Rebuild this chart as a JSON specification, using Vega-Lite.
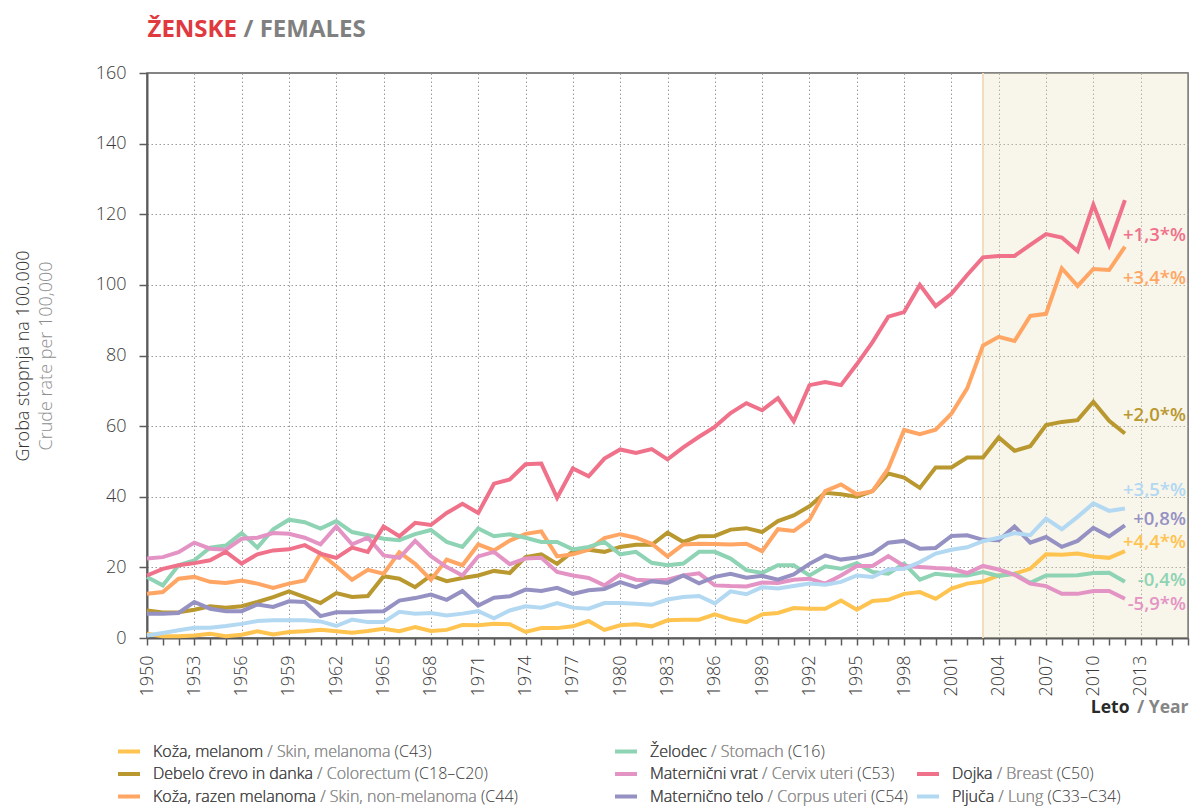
{
"$schema": "https://vega.github.io/schema/vega-lite/v6.json",
"width": 1041, "height": 565,
"autosize": {"type": "none"},
"padding": {"left": 147, "top": 73, "right": 7, "bottom": 170},
"background": "#ffffff",
"config": {"font": "Open Sans", "view": {"stroke": "#5c5c5c", "strokeWidth": 1.5}},
"datasets": {
"band": [{"start": 2003, "end": 2016}],
"trend": [
{"series":"dojka","label":"+1,3*%","year":2012,"label_rate":114.1},
{"series":"koza","label":"+3,4*%","year":2012,"label_rate":101.9},
{"series":"debelo","label":"+2,0*%","year":2012,"label_rate":63.1},
{"series":"pljuca","label":"+3,5*%","year":2012,"label_rate":42.0},
{"series":"telo","label":"+0,8%","year":2012,"label_rate":33.8},
{"series":"melanom","label":"+4,4*%","year":2012,"label_rate":27.2},
{"series":"zelodec","label":"-0,4%","year":2012,"label_rate":16.3},
{"series":"vrat","label":"-5,9*%","year":2012,"label_rate":9.5}
],
"legend": [
{"series":"melanom","col":1,"row":1,"pre":"Koža, melanom","mid":"Koža, melanom / Skin, melanoma","full":"Koža, melanom / Skin, melanoma (C43)"},
{"series":"debelo","col":1,"row":2,"pre":"Debelo črevo in danka","mid":"Debelo črevo in danka / Colorectum","full":"Debelo črevo in danka / Colorectum (C18–C20)"},
{"series":"koza","col":1,"row":3,"pre":"Koža, razen melanoma","mid":"Koža, razen melanoma / Skin, non-melanoma","full":"Koža, razen melanoma / Skin, non-melanoma (C44)"},
{"series":"zelodec","col":2,"row":1,"pre":"Želodec","mid":"Želodec / Stomach","full":"Želodec / Stomach (C16)"},
{"series":"vrat","col":2,"row":2,"pre":"Maternični vrat","mid":"Maternični vrat / Cervix uteri","full":"Maternični vrat / Cervix uteri (C53)"},
{"series":"telo","col":2,"row":3,"pre":"Maternično telo","mid":"Maternično telo / Corpus uteri","full":"Maternično telo / Corpus uteri (C54)"},
{"series":"dojka","col":3,"row":2,"pre":"Dojka","mid":"Dojka / Breast","full":"Dojka / Breast (C50)"},
{"series":"pljuca","col":3,"row":3,"pre":"Pljuča","mid":"Pljuča / Lung","full":"Pljuča / Lung (C33–C34)"}
],
"rates": [
{"series":"melanom","year":1950,"rate":1.2},{"series":"melanom","year":1951,"rate":0.5},{"series":"melanom","year":1952,"rate":0.5},{"series":"melanom","year":1953,"rate":0.7},{"series":"melanom","year":1954,"rate":1.2},{"series":"melanom","year":1955,"rate":0.5},{"series":"melanom","year":1956,"rate":0.9},{"series":"melanom","year":1957,"rate":1.9},{"series":"melanom","year":1958,"rate":1.0},{"series":"melanom","year":1959,"rate":1.7},
{"series":"melanom","year":1960,"rate":1.9},{"series":"melanom","year":1961,"rate":2.3},{"series":"melanom","year":1962,"rate":1.9},{"series":"melanom","year":1963,"rate":1.5},{"series":"melanom","year":1964,"rate":2.0},{"series":"melanom","year":1965,"rate":2.6},{"series":"melanom","year":1966,"rate":1.9},{"series":"melanom","year":1967,"rate":3.1},{"series":"melanom","year":1968,"rate":2.0},{"series":"melanom","year":1969,"rate":2.3},
{"series":"melanom","year":1970,"rate":3.7},{"series":"melanom","year":1971,"rate":3.6},{"series":"melanom","year":1972,"rate":4.0},{"series":"melanom","year":1973,"rate":3.9},{"series":"melanom","year":1974,"rate":1.7},{"series":"melanom","year":1975,"rate":2.8},{"series":"melanom","year":1976,"rate":2.8},{"series":"melanom","year":1977,"rate":3.3},{"series":"melanom","year":1978,"rate":4.8},{"series":"melanom","year":1979,"rate":2.3},
{"series":"melanom","year":1980,"rate":3.6},{"series":"melanom","year":1981,"rate":3.9},{"series":"melanom","year":1982,"rate":3.3},{"series":"melanom","year":1983,"rate":5.0},{"series":"melanom","year":1984,"rate":5.2},{"series":"melanom","year":1985,"rate":5.2},{"series":"melanom","year":1986,"rate":6.7},{"series":"melanom","year":1987,"rate":5.3},{"series":"melanom","year":1988,"rate":4.5},{"series":"melanom","year":1989,"rate":6.7},
{"series":"melanom","year":1990,"rate":7.1},{"series":"melanom","year":1991,"rate":8.5},{"series":"melanom","year":1992,"rate":8.3},{"series":"melanom","year":1993,"rate":8.3},{"series":"melanom","year":1994,"rate":10.6},{"series":"melanom","year":1995,"rate":8.0},{"series":"melanom","year":1996,"rate":10.5},{"series":"melanom","year":1997,"rate":10.8},{"series":"melanom","year":1998,"rate":12.5},{"series":"melanom","year":1999,"rate":13.0},
{"series":"melanom","year":2000,"rate":11.1},{"series":"melanom","year":2001,"rate":14.0},{"series":"melanom","year":2002,"rate":15.4},{"series":"melanom","year":2003,"rate":16.0},{"series":"melanom","year":2004,"rate":17.7},{"series":"melanom","year":2005,"rate":18.2},{"series":"melanom","year":2006,"rate":19.6},{"series":"melanom","year":2007,"rate":23.7},{"series":"melanom","year":2008,"rate":23.6},{"series":"melanom","year":2009,"rate":23.9},
{"series":"melanom","year":2010,"rate":23.1},{"series":"melanom","year":2011,"rate":22.7},{"series":"melanom","year":2012,"rate":24.6},
{"series":"debelo","year":1950,"rate":7.8},{"series":"debelo","year":1951,"rate":7.2},{"series":"debelo","year":1952,"rate":7.3},{"series":"debelo","year":1953,"rate":8.0},{"series":"debelo","year":1954,"rate":9.0},{"series":"debelo","year":1955,"rate":8.6},{"series":"debelo","year":1956,"rate":9.0},{"series":"debelo","year":1957,"rate":10.2},{"series":"debelo","year":1958,"rate":11.6},{"series":"debelo","year":1959,"rate":13.2},
{"series":"debelo","year":1960,"rate":11.6},{"series":"debelo","year":1961,"rate":9.9},{"series":"debelo","year":1962,"rate":12.7},{"series":"debelo","year":1963,"rate":11.6},{"series":"debelo","year":1964,"rate":11.9},{"series":"debelo","year":1965,"rate":17.5},{"series":"debelo","year":1966,"rate":16.8},{"series":"debelo","year":1967,"rate":14.4},{"series":"debelo","year":1968,"rate":17.7},{"series":"debelo","year":1969,"rate":16.1},
{"series":"debelo","year":1970,"rate":17.0},{"series":"debelo","year":1971,"rate":17.7},{"series":"debelo","year":1972,"rate":19.0},{"series":"debelo","year":1973,"rate":18.4},{"series":"debelo","year":1974,"rate":22.9},{"series":"debelo","year":1975,"rate":23.7},{"series":"debelo","year":1976,"rate":21.0},{"series":"debelo","year":1977,"rate":24.5},{"series":"debelo","year":1978,"rate":25.0},{"series":"debelo","year":1979,"rate":24.4},
{"series":"debelo","year":1980,"rate":25.8},{"series":"debelo","year":1981,"rate":26.4},{"series":"debelo","year":1982,"rate":26.4},{"series":"debelo","year":1983,"rate":29.8},{"series":"debelo","year":1984,"rate":27.2},{"series":"debelo","year":1985,"rate":28.8},{"series":"debelo","year":1986,"rate":28.9},{"series":"debelo","year":1987,"rate":30.7},{"series":"debelo","year":1988,"rate":31.1},{"series":"debelo","year":1989,"rate":30.0},
{"series":"debelo","year":1990,"rate":33.1},{"series":"debelo","year":1991,"rate":34.7},{"series":"debelo","year":1992,"rate":37.3},{"series":"debelo","year":1993,"rate":41.1},{"series":"debelo","year":1994,"rate":40.7},{"series":"debelo","year":1995,"rate":40.0},{"series":"debelo","year":1996,"rate":41.6},{"series":"debelo","year":1997,"rate":46.6},{"series":"debelo","year":1998,"rate":45.4},{"series":"debelo","year":1999,"rate":42.5},
{"series":"debelo","year":2000,"rate":48.3},{"series":"debelo","year":2001,"rate":48.3},{"series":"debelo","year":2002,"rate":51.1},{"series":"debelo","year":2003,"rate":51.1},{"series":"debelo","year":2004,"rate":56.8},{"series":"debelo","year":2005,"rate":53.0},{"series":"debelo","year":2006,"rate":54.3},{"series":"debelo","year":2007,"rate":60.3},{"series":"debelo","year":2008,"rate":61.2},{"series":"debelo","year":2009,"rate":61.7},
{"series":"debelo","year":2010,"rate":66.9},{"series":"debelo","year":2011,"rate":61.5},{"series":"debelo","year":2012,"rate":57.9},
{"series":"koza","year":1950,"rate":12.5},{"series":"koza","year":1951,"rate":13.0},{"series":"koza","year":1952,"rate":16.8},{"series":"koza","year":1953,"rate":17.3},{"series":"koza","year":1954,"rate":15.9},{"series":"koza","year":1955,"rate":15.6},{"series":"koza","year":1956,"rate":16.3},{"series":"koza","year":1957,"rate":15.4},{"series":"koza","year":1958,"rate":14.2},{"series":"koza","year":1959,"rate":15.4},
{"series":"koza","year":1960,"rate":16.3},{"series":"koza","year":1961,"rate":23.9},{"series":"koza","year":1962,"rate":20.3},{"series":"koza","year":1963,"rate":16.5},{"series":"koza","year":1964,"rate":19.3},{"series":"koza","year":1965,"rate":18.2},{"series":"koza","year":1966,"rate":24.3},{"series":"koza","year":1967,"rate":21.0},{"series":"koza","year":1968,"rate":16.5},{"series":"koza","year":1969,"rate":22.2},
{"series":"koza","year":1970,"rate":20.6},{"series":"koza","year":1971,"rate":26.5},{"series":"koza","year":1972,"rate":24.8},{"series":"koza","year":1973,"rate":27.6},{"series":"koza","year":1974,"rate":29.5},{"series":"koza","year":1975,"rate":30.2},{"series":"koza","year":1976,"rate":23.1},{"series":"koza","year":1977,"rate":23.7},{"series":"koza","year":1978,"rate":25.0},{"series":"koza","year":1979,"rate":28.3},
{"series":"koza","year":1980,"rate":29.4},{"series":"koza","year":1981,"rate":28.4},{"series":"koza","year":1982,"rate":26.7},{"series":"koza","year":1983,"rate":23.1},{"series":"koza","year":1984,"rate":26.5},{"series":"koza","year":1985,"rate":26.7},{"series":"koza","year":1986,"rate":26.6},{"series":"koza","year":1987,"rate":26.5},{"series":"koza","year":1988,"rate":26.7},{"series":"koza","year":1989,"rate":24.6},
{"series":"koza","year":1990,"rate":30.8},{"series":"koza","year":1991,"rate":30.3},{"series":"koza","year":1992,"rate":33.5},{"series":"koza","year":1993,"rate":41.6},{"series":"koza","year":1994,"rate":43.5},{"series":"koza","year":1995,"rate":40.7},{"series":"koza","year":1996,"rate":41.6},{"series":"koza","year":1997,"rate":48.0},{"series":"koza","year":1998,"rate":58.9},{"series":"koza","year":1999,"rate":57.7},
{"series":"koza","year":2000,"rate":59.0},{"series":"koza","year":2001,"rate":63.5},{"series":"koza","year":2002,"rate":70.7},{"series":"koza","year":2003,"rate":82.8},{"series":"koza","year":2004,"rate":85.3},{"series":"koza","year":2005,"rate":84.1},{"series":"koza","year":2006,"rate":91.2},{"series":"koza","year":2007,"rate":91.8},{"series":"koza","year":2008,"rate":104.7},{"series":"koza","year":2009,"rate":99.7},
{"series":"koza","year":2010,"rate":104.5},{"series":"koza","year":2011,"rate":104.2},{"series":"koza","year":2012,"rate":110.8},
{"series":"zelodec","year":1950,"rate":17.3},{"series":"zelodec","year":1951,"rate":14.9},{"series":"zelodec","year":1952,"rate":20.6},{"series":"zelodec","year":1953,"rate":22.0},{"series":"zelodec","year":1954,"rate":25.6},{"series":"zelodec","year":1955,"rate":26.2},{"series":"zelodec","year":1956,"rate":29.7},{"series":"zelodec","year":1957,"rate":25.6},{"series":"zelodec","year":1958,"rate":30.8},{"series":"zelodec","year":1959,"rate":33.5},
{"series":"zelodec","year":1960,"rate":32.8},{"series":"zelodec","year":1961,"rate":31.0},{"series":"zelodec","year":1962,"rate":33.1},{"series":"zelodec","year":1963,"rate":30.0},{"series":"zelodec","year":1964,"rate":29.1},{"series":"zelodec","year":1965,"rate":28.1},{"series":"zelodec","year":1966,"rate":27.7},{"series":"zelodec","year":1967,"rate":29.4},{"series":"zelodec","year":1968,"rate":30.6},{"series":"zelodec","year":1969,"rate":27.2},
{"series":"zelodec","year":1970,"rate":25.8},{"series":"zelodec","year":1971,"rate":31.0},{"series":"zelodec","year":1972,"rate":28.8},{"series":"zelodec","year":1973,"rate":29.4},{"series":"zelodec","year":1974,"rate":28.4},{"series":"zelodec","year":1975,"rate":27.2},{"series":"zelodec","year":1976,"rate":27.2},{"series":"zelodec","year":1977,"rate":25.1},{"series":"zelodec","year":1978,"rate":25.8},{"series":"zelodec","year":1979,"rate":27.2},
{"series":"zelodec","year":1980,"rate":23.7},{"series":"zelodec","year":1981,"rate":24.4},{"series":"zelodec","year":1982,"rate":21.3},{"series":"zelodec","year":1983,"rate":20.6},{"series":"zelodec","year":1984,"rate":21.1},{"series":"zelodec","year":1985,"rate":24.4},{"series":"zelodec","year":1986,"rate":24.4},{"series":"zelodec","year":1987,"rate":22.5},{"series":"zelodec","year":1988,"rate":19.2},{"series":"zelodec","year":1989,"rate":18.4},
{"series":"zelodec","year":1990,"rate":20.6},{"series":"zelodec","year":1991,"rate":20.6},{"series":"zelodec","year":1992,"rate":17.7},{"series":"zelodec","year":1993,"rate":20.3},{"series":"zelodec","year":1994,"rate":19.6},{"series":"zelodec","year":1995,"rate":21.2},{"series":"zelodec","year":1996,"rate":18.7},{"series":"zelodec","year":1997,"rate":18.2},{"series":"zelodec","year":1998,"rate":21.1},{"series":"zelodec","year":1999,"rate":16.5},
{"series":"zelodec","year":2000,"rate":18.2},{"series":"zelodec","year":2001,"rate":17.7},{"series":"zelodec","year":2002,"rate":17.7},{"series":"zelodec","year":2003,"rate":18.7},{"series":"zelodec","year":2004,"rate":17.6},{"series":"zelodec","year":2005,"rate":18.2},{"series":"zelodec","year":2006,"rate":15.6},{"series":"zelodec","year":2007,"rate":17.7},{"series":"zelodec","year":2008,"rate":17.7},{"series":"zelodec","year":2009,"rate":17.8},
{"series":"zelodec","year":2010,"rate":18.4},{"series":"zelodec","year":2011,"rate":18.5},{"series":"zelodec","year":2012,"rate":15.9},
{"series":"vrat","year":1950,"rate":22.5},{"series":"vrat","year":1951,"rate":22.9},{"series":"vrat","year":1952,"rate":24.3},{"series":"vrat","year":1953,"rate":27.0},{"series":"vrat","year":1954,"rate":25.3},{"series":"vrat","year":1955,"rate":25.0},{"series":"vrat","year":1956,"rate":28.1},{"series":"vrat","year":1957,"rate":28.4},{"series":"vrat","year":1958,"rate":29.7},{"series":"vrat","year":1959,"rate":29.5},
{"series":"vrat","year":1960,"rate":28.4},{"series":"vrat","year":1961,"rate":26.5},{"series":"vrat","year":1962,"rate":31.6},{"series":"vrat","year":1963,"rate":26.5},{"series":"vrat","year":1964,"rate":28.4},{"series":"vrat","year":1965,"rate":23.4},{"series":"vrat","year":1966,"rate":22.7},{"series":"vrat","year":1967,"rate":27.5},{"series":"vrat","year":1968,"rate":23.2},{"series":"vrat","year":1969,"rate":20.1},
{"series":"vrat","year":1970,"rate":17.7},{"series":"vrat","year":1971,"rate":23.1},{"series":"vrat","year":1972,"rate":24.4},{"series":"vrat","year":1973,"rate":20.9},{"series":"vrat","year":1974,"rate":22.5},{"series":"vrat","year":1975,"rate":22.7},{"series":"vrat","year":1976,"rate":18.7},{"series":"vrat","year":1977,"rate":17.7},{"series":"vrat","year":1978,"rate":17.0},{"series":"vrat","year":1979,"rate":14.9},
{"series":"vrat","year":1980,"rate":18.0},{"series":"vrat","year":1981,"rate":16.5},{"series":"vrat","year":1982,"rate":16.3},{"series":"vrat","year":1983,"rate":16.5},{"series":"vrat","year":1984,"rate":17.7},{"series":"vrat","year":1985,"rate":18.3},{"series":"vrat","year":1986,"rate":14.9},{"series":"vrat","year":1987,"rate":14.7},{"series":"vrat","year":1988,"rate":14.6},{"series":"vrat","year":1989,"rate":15.7},
{"series":"vrat","year":1990,"rate":15.6},{"series":"vrat","year":1991,"rate":16.5},{"series":"vrat","year":1992,"rate":16.8},{"series":"vrat","year":1993,"rate":15.4},{"series":"vrat","year":1994,"rate":17.7},{"series":"vrat","year":1995,"rate":20.4},{"series":"vrat","year":1996,"rate":20.4},{"series":"vrat","year":1997,"rate":23.2},{"series":"vrat","year":1998,"rate":20.4},{"series":"vrat","year":1999,"rate":20.1},
{"series":"vrat","year":2000,"rate":19.8},{"series":"vrat","year":2001,"rate":19.6},{"series":"vrat","year":2002,"rate":18.4},{"series":"vrat","year":2003,"rate":20.4},{"series":"vrat","year":2004,"rate":19.4},{"series":"vrat","year":2005,"rate":17.9},{"series":"vrat","year":2006,"rate":15.4},{"series":"vrat","year":2007,"rate":14.7},{"series":"vrat","year":2008,"rate":12.5},{"series":"vrat","year":2009,"rate":12.5},
{"series":"vrat","year":2010,"rate":13.3},{"series":"vrat","year":2011,"rate":13.3},{"series":"vrat","year":2012,"rate":11.1},
{"series":"telo","year":1950,"rate":6.9},{"series":"telo","year":1951,"rate":6.9},{"series":"telo","year":1952,"rate":7.1},{"series":"telo","year":1953,"rate":10.2},{"series":"telo","year":1954,"rate":8.3},{"series":"telo","year":1955,"rate":7.6},{"series":"telo","year":1956,"rate":7.6},{"series":"telo","year":1957,"rate":9.5},{"series":"telo","year":1958,"rate":8.8},{"series":"telo","year":1959,"rate":10.4},
{"series":"telo","year":1960,"rate":10.2},{"series":"telo","year":1961,"rate":6.2},{"series":"telo","year":1962,"rate":7.3},{"series":"telo","year":1963,"rate":7.3},{"series":"telo","year":1964,"rate":7.5},{"series":"telo","year":1965,"rate":7.6},{"series":"telo","year":1966,"rate":10.6},{"series":"telo","year":1967,"rate":11.3},{"series":"telo","year":1968,"rate":12.3},{"series":"telo","year":1969,"rate":10.8},
{"series":"telo","year":1970,"rate":13.3},{"series":"telo","year":1971,"rate":9.2},{"series":"telo","year":1972,"rate":11.4},{"series":"telo","year":1973,"rate":11.8},{"series":"telo","year":1974,"rate":13.7},{"series":"telo","year":1975,"rate":13.3},{"series":"telo","year":1976,"rate":14.2},{"series":"telo","year":1977,"rate":12.5},{"series":"telo","year":1978,"rate":13.5},{"series":"telo","year":1979,"rate":13.9},
{"series":"telo","year":1980,"rate":15.8},{"series":"telo","year":1981,"rate":14.4},{"series":"telo","year":1982,"rate":16.1},{"series":"telo","year":1983,"rate":15.6},{"series":"telo","year":1984,"rate":17.7},{"series":"telo","year":1985,"rate":15.5},{"series":"telo","year":1986,"rate":17.3},{"series":"telo","year":1987,"rate":18.2},{"series":"telo","year":1988,"rate":17.1},{"series":"telo","year":1989,"rate":17.6},
{"series":"telo","year":1990,"rate":16.5},{"series":"telo","year":1991,"rate":18.0},{"series":"telo","year":1992,"rate":21.0},{"series":"telo","year":1993,"rate":23.4},{"series":"telo","year":1994,"rate":22.2},{"series":"telo","year":1995,"rate":22.8},{"series":"telo","year":1996,"rate":23.9},{"series":"telo","year":1997,"rate":27.0},{"series":"telo","year":1998,"rate":27.5},{"series":"telo","year":1999,"rate":25.3},
{"series":"telo","year":2000,"rate":25.5},{"series":"telo","year":2001,"rate":28.9},{"series":"telo","year":2002,"rate":29.1},{"series":"telo","year":2003,"rate":27.8},{"series":"telo","year":2004,"rate":27.7},{"series":"telo","year":2005,"rate":31.6},{"series":"telo","year":2006,"rate":27.0},{"series":"telo","year":2007,"rate":28.6},{"series":"telo","year":2008,"rate":25.8},{"series":"telo","year":2009,"rate":27.5},
{"series":"telo","year":2010,"rate":31.2},{"series":"telo","year":2011,"rate":28.8},{"series":"telo","year":2012,"rate":31.9},
{"series":"pljuca","year":1950,"rate":0.7},{"series":"pljuca","year":1951,"rate":1.4},{"series":"pljuca","year":1952,"rate":2.2},{"series":"pljuca","year":1953,"rate":2.9},{"series":"pljuca","year":1954,"rate":2.9},{"series":"pljuca","year":1955,"rate":3.4},{"series":"pljuca","year":1956,"rate":4.0},{"series":"pljuca","year":1957,"rate":4.8},{"series":"pljuca","year":1958,"rate":5.0},{"series":"pljuca","year":1959,"rate":5.0},
{"series":"pljuca","year":1960,"rate":5.0},{"series":"pljuca","year":1961,"rate":4.7},{"series":"pljuca","year":1962,"rate":3.4},{"series":"pljuca","year":1963,"rate":5.2},{"series":"pljuca","year":1964,"rate":4.5},{"series":"pljuca","year":1965,"rate":4.5},{"series":"pljuca","year":1966,"rate":7.4},{"series":"pljuca","year":1967,"rate":6.9},{"series":"pljuca","year":1968,"rate":7.1},{"series":"pljuca","year":1969,"rate":6.4},
{"series":"pljuca","year":1970,"rate":6.9},{"series":"pljuca","year":1971,"rate":7.6},{"series":"pljuca","year":1972,"rate":5.6},{"series":"pljuca","year":1973,"rate":7.8},{"series":"pljuca","year":1974,"rate":9.0},{"series":"pljuca","year":1975,"rate":8.6},{"series":"pljuca","year":1976,"rate":9.9},{"series":"pljuca","year":1977,"rate":8.6},{"series":"pljuca","year":1978,"rate":8.3},{"series":"pljuca","year":1979,"rate":9.9},
{"series":"pljuca","year":1980,"rate":9.9},{"series":"pljuca","year":1981,"rate":9.7},{"series":"pljuca","year":1982,"rate":9.4},{"series":"pljuca","year":1983,"rate":10.9},{"series":"pljuca","year":1984,"rate":11.6},{"series":"pljuca","year":1985,"rate":11.9},{"series":"pljuca","year":1986,"rate":9.8},{"series":"pljuca","year":1987,"rate":13.2},{"series":"pljuca","year":1988,"rate":12.4},{"series":"pljuca","year":1989,"rate":14.4},
{"series":"pljuca","year":1990,"rate":14.0},{"series":"pljuca","year":1991,"rate":14.7},{"series":"pljuca","year":1992,"rate":15.4},{"series":"pljuca","year":1993,"rate":15.1},{"series":"pljuca","year":1994,"rate":15.9},{"series":"pljuca","year":1995,"rate":17.7},{"series":"pljuca","year":1996,"rate":17.3},{"series":"pljuca","year":1997,"rate":19.4},{"series":"pljuca","year":1998,"rate":19.6},{"series":"pljuca","year":1999,"rate":21.5},
{"series":"pljuca","year":2000,"rate":23.9},{"series":"pljuca","year":2001,"rate":25.0},{"series":"pljuca","year":2002,"rate":25.7},{"series":"pljuca","year":2003,"rate":27.4},{"series":"pljuca","year":2004,"rate":28.4},{"series":"pljuca","year":2005,"rate":29.7},{"series":"pljuca","year":2006,"rate":29.1},{"series":"pljuca","year":2007,"rate":33.8},{"series":"pljuca","year":2008,"rate":30.8},{"series":"pljuca","year":2009,"rate":34.3},
{"series":"pljuca","year":2010,"rate":38.1},{"series":"pljuca","year":2011,"rate":36.0},{"series":"pljuca","year":2012,"rate":36.7},
{"series":"dojka","year":1950,"rate":17.7},{"series":"dojka","year":1951,"rate":19.6},{"series":"dojka","year":1952,"rate":20.6},{"series":"dojka","year":1953,"rate":21.2},{"series":"dojka","year":1954,"rate":22.0},{"series":"dojka","year":1955,"rate":24.4},{"series":"dojka","year":1956,"rate":21.1},{"series":"dojka","year":1957,"rate":23.7},{"series":"dojka","year":1958,"rate":24.8},{"series":"dojka","year":1959,"rate":25.1},
{"series":"dojka","year":1960,"rate":26.3},{"series":"dojka","year":1961,"rate":23.9},{"series":"dojka","year":1962,"rate":22.7},{"series":"dojka","year":1963,"rate":25.6},{"series":"dojka","year":1964,"rate":24.4},{"series":"dojka","year":1965,"rate":31.6},{"series":"dojka","year":1966,"rate":28.8},{"series":"dojka","year":1967,"rate":32.6},{"series":"dojka","year":1968,"rate":32.0},{"series":"dojka","year":1969,"rate":35.4},
{"series":"dojka","year":1970,"rate":38.0},{"series":"dojka","year":1971,"rate":35.4},{"series":"dojka","year":1972,"rate":43.7},{"series":"dojka","year":1973,"rate":44.9},{"series":"dojka","year":1974,"rate":49.2},{"series":"dojka","year":1975,"rate":49.4},{"series":"dojka","year":1976,"rate":39.7},{"series":"dojka","year":1977,"rate":48.0},{"series":"dojka","year":1978,"rate":45.8},{"series":"dojka","year":1979,"rate":50.8},
{"series":"dojka","year":1980,"rate":53.4},{"series":"dojka","year":1981,"rate":52.4},{"series":"dojka","year":1982,"rate":53.5},{"series":"dojka","year":1983,"rate":50.6},{"series":"dojka","year":1984,"rate":54.0},{"series":"dojka","year":1985,"rate":57.0},{"series":"dojka","year":1986,"rate":59.8},{"series":"dojka","year":1987,"rate":63.7},{"series":"dojka","year":1988,"rate":66.5},{"series":"dojka","year":1989,"rate":64.5},
{"series":"dojka","year":1990,"rate":67.9},{"series":"dojka","year":1991,"rate":61.4},{"series":"dojka","year":1992,"rate":71.6},{"series":"dojka","year":1993,"rate":72.5},{"series":"dojka","year":1994,"rate":71.6},{"series":"dojka","year":1995,"rate":77.5},{"series":"dojka","year":1996,"rate":83.8},{"series":"dojka","year":1997,"rate":91.0},{"series":"dojka","year":1998,"rate":92.3},{"series":"dojka","year":1999,"rate":100.0},
{"series":"dojka","year":2000,"rate":94.0},{"series":"dojka","year":2001,"rate":97.5},{"series":"dojka","year":2002,"rate":102.8},{"series":"dojka","year":2003,"rate":107.8},{"series":"dojka","year":2004,"rate":108.2},{"series":"dojka","year":2005,"rate":108.2},{"series":"dojka","year":2006,"rate":111.3},{"series":"dojka","year":2007,"rate":114.4},{"series":"dojka","year":2008,"rate":113.4},{"series":"dojka","year":2009,"rate":109.6},
{"series":"dojka","year":2010,"rate":122.7},{"series":"dojka","year":2011,"rate":111.3},{"series":"dojka","year":2012,"rate":124.0}
]
},
"layer": [
{
"data": {"name": "band"},
"layer": [
{"mark": {"type": "rect", "color": "#e9dfb9", "opacity": 0.3},
 "encoding": {
  "x": {"field": "start", "type": "quantitative", "scale": {"domain": [1950, 2016], "nice": false, "zero": false},
   "axis": {"orient": "bottom", "title": "/ Year", "labels": false, "ticks": false, "domain": false, "grid": false, "titleX": 1041, "titleY": 74, "titleAlign": "right", "titleBaseline": "alphabetic", "titleAngle": 0, "titleFont": "Open Sans", "titleFontSize": 17.5, "titleFontWeight": "bold", "titleColor": "#858585"}},
  "x2": {"field": "end"}}},
{"mark": {"type": "rule", "color": "#f1dcbd", "strokeWidth": 2},
 "encoding": {"x": {"field": "start", "type": "quantitative"}}}
]
},
{
"data": {"name": "rates"},
"mark": {"type": "line", "strokeWidth": 4},
"encoding": {
 "x": {"field": "year", "type": "quantitative", "scale": {"domain": [1950, 2016], "nice": false, "zero": false},
  "axis": {"orient": "bottom",
   "values": [1950,1951,1952,1953,1954,1955,1956,1957,1958,1959,1960,1961,1962,1963,1964,1965,1966,1967,1968,1969,1970,1971,1972,1973,1974,1975,1976,1977,1978,1979,1980,1981,1982,1983,1984,1985,1986,1987,1988,1989,1990,1991,1992,1993,1994,1995,1996,1997,1998,1999,2000,2001,2002,2003,2004,2005,2006,2007,2008,2009,2010,2011,2012,2013,2014,2015,2016],
   "format": "d",
   "labelExpr": "datum.value % 3 === 0 && datum.value < 2016 ? datum.label : ''",
   "labelAngle": -90, "labelAlign": "right", "labelBaseline": "middle",
   "labelFont": "Open Sans", "labelFontSize": 18, "labelFontWeight": 300, "labelColor": "#3a3a3a", "labelPadding": 10,
   "labelOverlap": false, "labelFlush": false, "labelBound": false,
   "tickSize": 7, "tickColor": "#5c5c5c", "tickWidth": 1.5,
   "domainColor": "#5c5c5c", "domainWidth": 2,
   "grid": true, "gridColor": "#9a9a9a", "gridDash": [1.5, 2.5], "gridWidth": 1,
   "gridOpacity": {"condition": {"test": "datum.value % 3 === 0 && datum.value > 1950 && datum.value < 2016", "value": 1}, "value": 0},
   "title": "Leto", "titleX": 982, "titleY": 74, "titleAlign": "right", "titleBaseline": "alphabetic", "titleAngle": 0,
   "titleFont": "Open Sans", "titleFontSize": 17.5, "titleFontWeight": "bold", "titleColor": "#2a2a2a"}},
 "y": {"field": "rate", "type": "quantitative", "scale": {"domain": [0, 160], "nice": false, "zero": false},
  "axis": {"orient": "left", "values": [0,20,40,60,80,100,120,140,160],
   "labelFont": "Open Sans", "labelFontSize": 18, "labelFontWeight": 300, "labelColor": "#3a3a3a", "labelPadding": 13,
   "tickSize": 8, "tickColor": "#5c5c5c", "tickWidth": 1.5,
   "domainColor": "#5c5c5c", "domainWidth": 2,
   "grid": true, "gridColor": "#9a9a9a", "gridDash": [1.5, 2.5], "gridWidth": 1,
   "gridOpacity": {"condition": {"test": "datum.value > 0 && datum.value < 160", "value": 1}, "value": 0},
   "title": "Crude rate per 100,000", "titleX": -101, "titleY": 282.5, "titleAngle": -90, "titleAlign": "center", "titleBaseline": "middle",
   "titleFont": "Open Sans", "titleFontSize": 18, "titleFontWeight": 300, "titleColor": "#8f8f8f"}},
 "color": {"field": "series", "type": "nominal",
  "scale": {"domain": ["melanom","debelo","koza","zelodec","vrat","telo","dojka","pljuca"], "range": ["#ffc34f","#b9982f","#ffa664","#8dd3b4","#e494c4","#9591c3","#f0718a","#b3d8f2"]},
  "legend": null}
}
},
{
"data": {"name": "trend"},
"mark": {"type": "text", "align": "right", "baseline": "middle", "dx": 61, "font": "Open Sans", "fontSize": 18.5, "fontWeight": 600},
"encoding": {
 "x": {"field": "year", "type": "quantitative", "scale": {"domain": [1950, 2016], "nice": false, "zero": false},
  "axis": {"orient": "top", "title": "ŽENSKE", "labels": false, "ticks": false, "domain": false, "grid": false, "titleX": 0, "titleY": -37, "titleAlign": "left", "titleBaseline": "alphabetic", "titleAngle": 0, "titleFont": "Open Sans", "titleFontSize": 24, "titleFontWeight": "bold", "titleColor": "#e0393e"}},
 "y": {"field": "label_rate", "type": "quantitative", "scale": {"domain": [0, 160], "nice": false, "zero": false},
  "axis": {"orient": "left", "title": "Groba stopnja na 100.000", "labels": false, "ticks": false, "domain": false, "grid": false, "titleX": -124, "titleY": 282.5, "titleAngle": -90, "titleAlign": "center", "titleBaseline": "middle", "titleFont": "Open Sans", "titleFontSize": 18, "titleFontWeight": 300, "titleColor": "#333333"}},
 "text": {"field": "label"},
 "color": {"field": "series", "type": "nominal",
  "scale": {"domain": ["melanom","debelo","koza","zelodec","vrat","telo","dojka","pljuca"], "range": ["#ffc34f","#b9982f","#ffa664","#8dd3b4","#e494c4","#9591c3","#f0718a","#b3d8f2"]},
  "legend": null}
}
},
{
"data": {"name": "legend"},
"encoding": {
 "x": {"field": "col", "type": "quantitative", "scale": {"domain": [1, 2, 3], "range": [6, 503, 805], "nice": false, "zero": false},
  "axis": {"orient": "top", "title": "/ FEMALES", "labels": false, "ticks": false, "domain": false, "grid": false, "titleX": 96, "titleY": -37, "titleAlign": "left", "titleBaseline": "alphabetic", "titleAngle": 0, "titleFont": "Open Sans", "titleFontSize": 24, "titleFontWeight": "bold", "titleColor": "#808080"}},
 "y": {"field": "row", "type": "quantitative", "scale": {"domain": [1, 3], "range": [678.5, 723.5], "nice": false, "zero": false}, "axis": null}
},
"layer": [
 {"mark": {"type": "tick", "orient": "horizontal", "size": 22, "thickness": 4, "xOffset": -24, "opacity": 1},
  "encoding": {"color": {"field": "series", "type": "nominal",
   "scale": {"domain": ["melanom","debelo","koza","zelodec","vrat","telo","dojka","pljuca"], "range": ["#ffc34f","#b9982f","#ffa664","#8dd3b4","#e494c4","#9591c3","#f0718a","#b3d8f2"]},
   "legend": null}}},
 {"mark": {"type": "text", "align": "left", "baseline": "middle", "font": "Open Sans", "fontSize": 16, "fontWeight": 300, "color": "#3a3a3a"},
  "encoding": {"text": {"field": "full"}}},
 {"mark": {"type": "text", "align": "left", "baseline": "middle", "font": "Open Sans", "fontSize": 16, "fontWeight": 300, "color": "#a3a3a3"},
  "encoding": {"text": {"field": "mid"}}},
 {"mark": {"type": "text", "align": "left", "baseline": "middle", "font": "Open Sans", "fontSize": 16, "fontWeight": 300, "color": "#3a3a3a"},
  "encoding": {"text": {"field": "pre"}}}
]
}
],
"resolve": {"scale": {"x": "independent", "y": "independent"}}
}
